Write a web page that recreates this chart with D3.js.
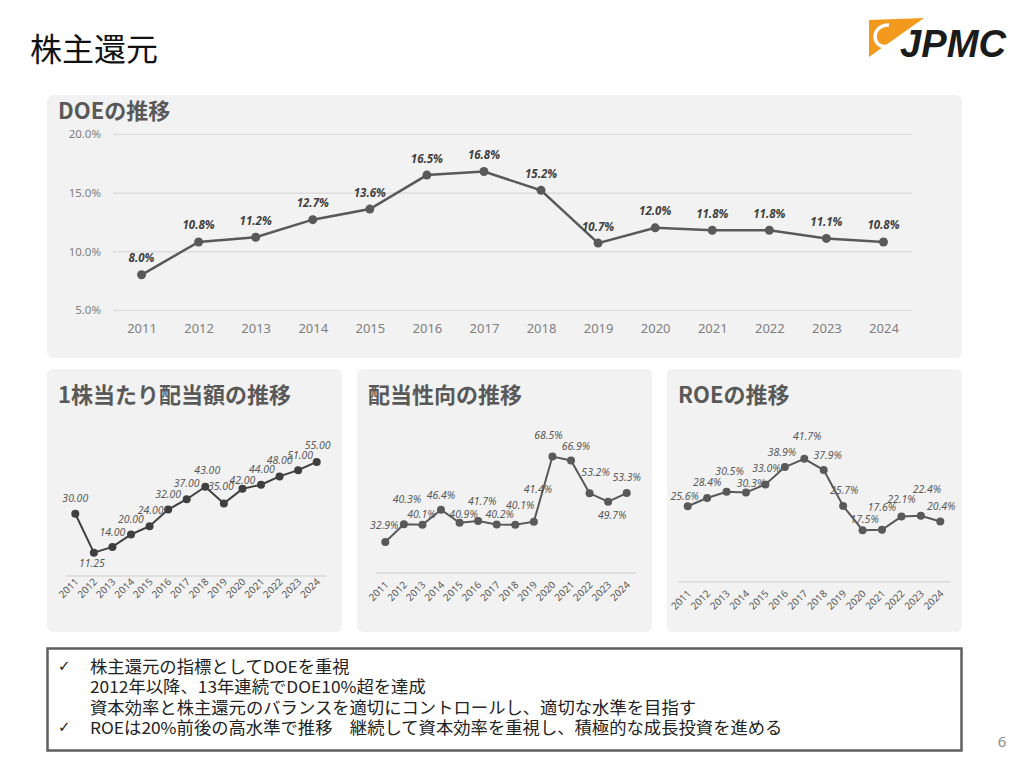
<!DOCTYPE html>
<html lang="ja">
<head>
<meta charset="utf-8">
<script src="https://cdn.jsdelivr.net/npm/d3@7"></script>
<style>
  body { margin: 0; background: #fff; }
  svg { display: block; font-family: "Noto Sans", "Noto Sans CJK JP", sans-serif; }
</style>
</head>
<body>
<svg id="slide" width="1024" height="761"></svg>
<script>
// Chart data
const years = ['2011', '2012', '2013', '2014', '2015', '2016', '2017',
  '2018', '2019', '2020', '2021', '2022', '2023', '2024'];
const doeValues = [8.0, 10.8, 11.2, 12.7, 13.6, 16.5, 16.8, 15.2, 10.7, 12.0, 11.8, 11.8, 11.1, 10.8];
const dpsValues = [30.00, 11.25, 14.00, 20.00, 24.00, 32.00, 37.00, 43.00, 35.00, 42.00, 44.00, 48.00, 51.00, 55.00];
const payoutValues = [32.9, 40.3, 40.1, 46.4, 40.9, 41.7, 40.2, 40.1, 41.4, 68.5, 66.9, 53.2, 49.7, 53.3];
const roeValues = [25.6, 28.4, 30.5, 30.3, 33.0, 38.9, 41.7, 37.9, 25.7, 17.5, 17.6, 22.1, 22.4, 20.4];
const doeTicks = [5, 10, 15, 20];

const noteLines = [
  '株主還元の指標としてDOEを重視',
  '2012年以降、13年連続でDOE10%超を達成',
  '資本効率と株主還元のバランスを適切にコントロールし、適切な水準を目指す',
  'ROEは20%前後の高水準で推移　継続して資本効率を重視し、積極的な成長投資を進める',
];
const noteChecks = [true, false, false, true];

// Hand-placed label nudges (dx, dy) copied from the slide layout
const dpsNudge = [[0, -16], [-2, 10], [0, -15], [0, -16], [1, -16], [0, -16], [0, -16],
  [2, -17], [-3, -17], [0, -9], [1, -16], [0, -16], [2, -15], [1, -17]];
const payoutNudge = [[-1, -17], [3, -25], [-1, -11], [0, -15], [4, -9], [4, -20], [3, -11],
  [5, -20], [4, -33], [-4, -22], [5, -14], [6, -21], [4, 13], [0, -16]];
const roeNudge = [[-3, -10], [0, -16], [3, -21], [5, -9], [1, -16], [-3, -15], [3, -23],
  [4, -15], [1, -16], [2, -11], [0, -23], [0, -18], [6, -27], [1, -16]];

const svg = d3.select('#slide');
const PANEL_FILL = '#f2f2f2';
const GRID = '#d9d9d9';

// Slide title
svg.append('text')
  .attr('x', 30).attr('y', 61)
  .style('font-family', '"Noto Sans CJK JP", sans-serif')
  .style('font-size', '32px')
  .attr('fill', '#111')
  .text('株主還元');

// Logo
const logo = svg.append('g');
logo.append('path')
  .attr('d', 'M869,20 L924,18 L869,57 Z')
  .attr('fill', '#f39a1e');
logo.append('path')
  .attr('d', 'M889,25 C878,25 873,33 876,41 C878,46 884,48 890,45')
  .attr('fill', 'none').attr('stroke', '#fff').attr('stroke-width', 3.5);
logo.append('text')
  .attr('x', 900).attr('y', 57)
  .attr('textLength', 106)
  .attr('lengthAdjust', 'spacingAndGlyphs')
  .style('font-family', '"Liberation Sans", Arial, sans-serif')
  .style('font-size', '38px').style('font-weight', 900).style('font-style', 'italic')
  .attr('fill', '#1b1b1b')
  .text('JPMC');

// Page number
svg.append('text')
  .attr('x', 1002).attr('y', 747)
  .attr('text-anchor', 'middle')
  .style('font-size', '15px')
  .attr('fill', '#8c8c8c')
  .text('6');

function panel(x0, y0, x1, y1, title, tx, ty) {
  svg.append('rect')
    .attr('x', x0).attr('y', y0)
    .attr('width', x1 - x0).attr('height', y1 - y0)
    .attr('rx', 6)
    .attr('fill', PANEL_FILL);
  svg.append('text')
    .attr('x', tx).attr('y', ty)
    .style('font-family', '"Noto Sans CJK JP", sans-serif')
    .style('font-size', '22px').style('font-weight', 700)
    .attr('fill', '#595959')
    .text(title);
}

/*********************************************************************
 * DOE chart
 *********************************************************************/
panel(47, 95, 962, 358, 'DOEの推移', 58, 119);

const doeX = d3.scalePoint().domain(years).range([113, 912]).padding(0.5);
const doeY = d3.scaleLinear().domain([5, 20]).range([310, 134]);

const doeYAxis = svg.append('g')
  .attr('transform', 'translate(113,0)')
  .call(d3.axisLeft(doeY).tickValues(doeTicks).tickSize(-799).tickPadding(12)
    .tickFormat((d) => d.toFixed(1) + '%'));
doeYAxis.select('.domain').remove();
doeYAxis.selectAll('line').attr('stroke', GRID).attr('stroke-width', 1.2);
doeYAxis.selectAll('text')
  .style('font-size', '11.5px').attr('fill', '#7f7f7f')
  .style('font-family', '"Noto Sans", sans-serif');

const doeXAxis = svg.append('g')
  .attr('transform', 'translate(0,310)')
  .call(d3.axisBottom(doeX).tickSize(0).tickPadding(14));
doeXAxis.select('.domain').remove();
doeXAxis.selectAll('text')
  .style('font-size', '13px').attr('fill', '#7f7f7f')
  .style('font-family', '"Noto Sans", sans-serif');

const doeLine = d3.line()
  .x((d, i) => doeX(years[i]))
  .y((d) => doeY(d));

svg.append('path')
  .datum(doeValues)
  .attr('d', doeLine)
  .attr('fill', 'none')
  .attr('stroke', '#595959')
  .attr('stroke-width', 2.5);

svg.append('g').selectAll('circle')
  .data(doeValues)
  .join('circle')
    .attr('cx', (d, i) => doeX(years[i]))
    .attr('cy', (d) => doeY(d))
    .attr('r', 4.5)
    .attr('fill', '#595959');

svg.append('g').selectAll('text')
  .data(doeValues)
  .join('text')
    .attr('x', (d, i) => doeX(years[i]))
    .attr('y', (d) => doeY(d) - 17)
    .attr('text-anchor', 'middle')
    .attr('dominant-baseline', 'central')
    .style('font-size', '11.5px').style('font-weight', 700).style('font-style', 'italic')
    .attr('fill', '#404040')
    .text((d) => d.toFixed(1) + '%');

/*********************************************************************
 * Small charts
 *********************************************************************/
function smallChart(opts) {
  panel(opts.x0, 369, opts.x1, 632, opts.title, opts.x0 + 11, 403);

  const x = d3.scalePoint().domain(years).range(opts.xRange).padding(0.5);
  const y = d3.scaleLinear().domain(opts.yDomain).range(opts.yRange);
  const axisY = opts.yRange[0];

  svg.append('line')
    .attr('x1', opts.xRange[0]).attr('x2', opts.xRange[1])
    .attr('y1', axisY).attr('y2', axisY)
    .attr('stroke', GRID).attr('stroke-width', 1.5);

  const xAxis = svg.append('g')
    .attr('transform', `translate(0,${axisY})`)
    .call(d3.axisBottom(x).tickSize(0));
  xAxis.select('.domain').remove();
  xAxis.selectAll('text')
    .attr('y', 0).attr('dy', '0.35em')
    .attr('text-anchor', 'end')
    .attr('transform', `translate(1,${opts.tickOffset}) rotate(-45)`)
    .style('font-size', '10px').attr('fill', '#595959')
    .style('font-family', '"Noto Sans", sans-serif');

  const line = d3.line()
    .x((d, i) => x(years[i]))
    .y((d) => y(d));

  svg.append('path')
    .datum(opts.values)
    .attr('d', line)
    .attr('fill', 'none')
    .attr('stroke', opts.color)
    .attr('stroke-width', 2);

  svg.append('g').selectAll('circle')
    .data(opts.values)
    .join('circle')
      .attr('cx', (d, i) => x(years[i]))
      .attr('cy', (d) => y(d))
      .attr('r', 4)
      .attr('fill', opts.color);

  svg.append('g').selectAll('text')
    .data(opts.values)
    .join('text')
      .attr('x', (d, i) => x(years[i]) + opts.nudge[i][0])
      .attr('y', (d, i) => y(d) + opts.nudge[i][1])
      .attr('text-anchor', 'middle')
      .attr('dominant-baseline', 'central')
      .style('font-size', '10.5px').style('font-style', 'italic')
      .attr('fill', '#595959')
      .text(opts.format);
}

smallChart({
  x0: 47, x1: 342, title: '1株当たり配当額の推移',
  xRange: [66, 326], yDomain: [0, 60], yRange: [576, 451.5],
  values: dpsValues, nudge: dpsNudge, color: '#3f3f3f', tickOffset: 4,
  format: (d) => d.toFixed(2),
});

smallChart({
  x0: 357, x1: 652, title: '配当性向の推移',
  xRange: [376, 636], yDomain: [20, 80], yRange: [573, 429],
  values: payoutValues, nudge: payoutNudge, color: '#595959', tickOffset: 10,
  format: (d) => d.toFixed(1) + '%',
});

smallChart({
  x0: 667, x1: 962, title: 'ROEの推移',
  xRange: [678, 950], yDomain: [0, 50], yRange: [581.7, 434.35],
  values: roeValues, nudge: roeNudge, color: '#595959', tickOffset: 10,
  format: (d) => d.toFixed(1) + '%',
});

/*********************************************************************
 * Notes box
 *********************************************************************/
svg.append('rect')
  .attr('x', 47.5).attr('y', 648.5)
  .attr('width', 914).attr('height', 102)
  .attr('fill', '#fff')
  .attr('stroke', '#5f5f5f')
  .attr('stroke-width', 2.5);

const noteY = d3.scalePoint().domain(d3.range(noteLines.length)).range([666, 727]);

const notes = svg.append('g').selectAll('g')
  .data(noteLines)
  .join('g')
    .attr('transform', (d, i) => `translate(0,${noteY(i)})`);

notes.filter((d, i) => noteChecks[i])
  .append('text')
    .attr('x', 58)
    .attr('dominant-baseline', 'central')
    .style('font-family', '"DejaVu Sans", sans-serif')
    .style('font-size', '15px')
    .attr('fill', '#222')
    .text('✓');

// The slide font is a little wider than Noto CJK, so stretch each line slightly
notes.append('text')
  .attr('x', 90)
  .attr('dominant-baseline', 'central')
  .style('font-family', '"Noto Sans CJK JP", sans-serif')
  .style('font-size', '16.5px')
  .attr('fill', '#222')
  .text((d) => d)
  .each(function () {
    const len = this.getComputedTextLength();
    d3.select(this)
      .attr('textLength', len * 1.05)
      .attr('lengthAdjust', 'spacingAndGlyphs');
  });
</script>
</body>
</html>
